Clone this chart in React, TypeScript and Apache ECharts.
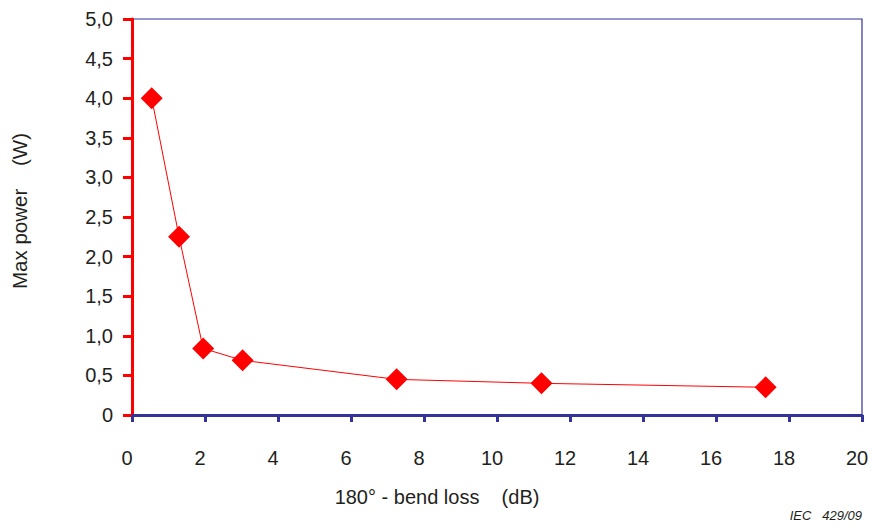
import React, { useEffect, useRef } from "react";
import * as echarts from "echarts";

const bendLoss = [0.54, 1.29, 1.95, 3.03, 7.25, 11.22, 17.36];
const maxPower = [4.0, 2.25, 0.84, 0.69, 0.45, 0.4, 0.35];
const xTitle = "180° - bend loss    (dB)";
const yTitle = "Max power    (W)";
const credit = "IEC   429/09";

const BLUE = "#333399";
const RED = "#ff0000";
const TXT = "#231f20";
const FONT = "'Liberation Sans', Arial, sans-serif";

export default function App() {
  const ref = useRef<HTMLDivElement>(null);
  useEffect(() => {
    if (!ref.current) return;
    const chart = echarts.init(ref.current, undefined, { renderer: "svg" });
    chart.setOption({
      animation: false,
      backgroundColor: "#ffffff",
      textStyle: { fontFamily: FONT },
      grid: {
        left: 132,
        right: 15,
        top: 19,
        bottom: 110,
        show: true,
        borderColor: BLUE,
        borderWidth: 1.2,
        backgroundColor: "transparent",
      },
      xAxis: {
        type: "value",
        min: 0,
        max: 20,
        interval: 2,
        axisLine: { show: true, onZero: false, lineStyle: { color: BLUE, width: 3 } },
        axisTick: { show: true, length: 7, lineStyle: { color: BLUE, width: 3 } },
        splitLine: { show: false },
        axisLabel: {
          color: TXT,
          fontSize: 20,
          margin: 33,
          fontFamily: FONT,
          padding: [0, 10, 0, 0],
        },
      },
      yAxis: {
        type: "value",
        min: 0,
        max: 5,
        interval: 0.5,
        axisLine: { show: true, onZero: false, lineStyle: { color: RED, width: 3 } },
        axisTick: { show: true, length: 9, lineStyle: { color: RED, width: 3 } },
        splitLine: { show: false },
        axisLabel: {
          color: TXT,
          fontSize: 20,
          margin: 19,
          fontFamily: FONT,
          formatter: (v: number) => (v === 0 ? "0" : v.toFixed(1).replace(".", ",")),
        },
      },
      graphic: [
        {
          type: "text",
          x: 437,
          y: 497,
          style: {
            text: xTitle,
            fill: TXT,
            font: `20px ${FONT}`,
            textAlign: "center",
            textVerticalAlign: "middle",
          },
        },
        {
          type: "text",
          x: 19,
          y: 211,
          rotation: Math.PI / 2,
          style: {
            text: yTitle,
            fill: TXT,
            font: `20.5px ${FONT}`,
            textAlign: "center",
            textVerticalAlign: "middle",
          },
        },
        {
          type: "text",
          x: 862,
          y: 515,
          style: {
            text: credit,
            fill: TXT,
            font: `italic 13px ${FONT}`,
            textAlign: "right",
            textVerticalAlign: "middle",
          },
        },
      ],
      series: [
        {
          type: "line",
          data: bendLoss.map((x, i) => [x, maxPower[i]]),
          symbol: "diamond",
          symbolSize: [22, 22],
          showAllSymbol: true,
          lineStyle: { color: RED, width: 1 },
          itemStyle: { color: RED },
        },
      ],
    });
    return () => chart.dispose();
  }, []);
  return (
    <div
      ref={ref}
      style={{ position: "fixed", left: 0, top: 0, width: 877, height: 525 }}
    />
  );
}
